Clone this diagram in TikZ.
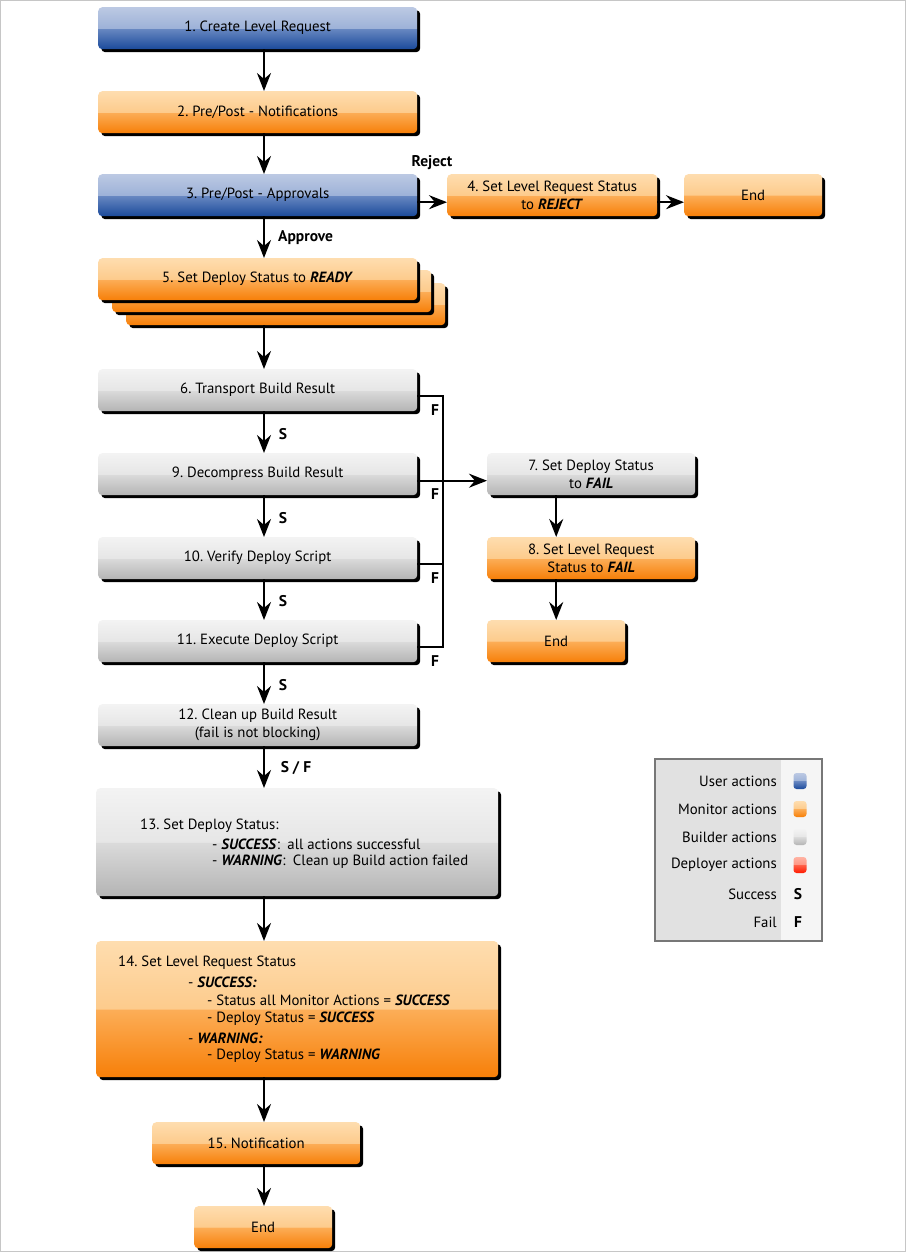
\documentclass[tikz,border=0pt]{standalone}
\usepackage{fontspec}
\setmainfont{PT Sans}
\usetikzlibrary{arrows.meta,shadows,calc}
\frenchspacing
\definecolor{oT}{HTML}{FEDDAF}
\definecolor{oL}{HTML}{FDCB8C}
\definecolor{oM}{HTML}{FCAE58}
\definecolor{oB}{HTML}{F77F08}
\definecolor{bT}{HTML}{BCC9E3}
\definecolor{bL}{HTML}{9DB2D8}
\definecolor{bM}{HTML}{6A89C2}
\definecolor{bB}{HTML}{1B4A9B}
\definecolor{gT}{HTML}{F3F3F3}
\definecolor{gL}{HTML}{E6E6E6}
\definecolor{gM}{HTML}{DBDBDB}
\definecolor{gB}{HTML}{B4B4B4}
\definecolor{rT}{HTML}{FFB3A3}
\definecolor{rL}{HTML}{FF9482}
\definecolor{rM}{HTML}{FF6048}
\definecolor{rB}{HTML}{FF1A00}
\definecolor{legL}{HTML}{E1E1E1}
\definecolor{legR}{HTML}{F5F5F5}
\definecolor{legD}{HTML}{777777}
\pgfdeclareverticalshading{glossO}{100bp}{color(0bp)=(oB); color(25bp)=(oB); color(50bp)=(oM); color(50bp)=(oL); color(75bp)=(oT); color(100bp)=(oT)}
\pgfdeclareverticalshading{glossB}{100bp}{color(0bp)=(bB); color(25bp)=(bB); color(50bp)=(bM); color(50bp)=(bL); color(75bp)=(bT); color(100bp)=(bT)}
\pgfdeclareverticalshading{glossG}{100bp}{color(0bp)=(gB); color(25bp)=(gB); color(50bp)=(gM); color(50bp)=(gL); color(75bp)=(gT); color(100bp)=(gT)}
\pgfdeclareverticalshading{glossR}{100bp}{color(0bp)=(rB); color(25bp)=(rB); color(50bp)=(rM); color(50bp)=(rL); color(75bp)=(rT); color(100bp)=(rT)}
\tikzset{
  box/.style={rounded corners=4pt, minimum height=42pt, anchor=north west, inner sep=2pt,
    align=center, font=\fontsize{14.8}{18}\selectfont,
    general shadow={fill=black, shadow xshift=3pt, shadow yshift=-3pt}},
  obox/.style={box, shading=glossO},
  bbox/.style={box, shading=glossB},
  gbox/.style={box, shading=glossG},
  arr/.style={line width=2pt, -{Stealth[length=18pt,width=14pt,inset=6pt]}},
  ln/.style={line width=1.7pt},
  lbl/.style={font=\fontsize{15.5}{17}\bfseries\selectfont, inner sep=0pt},
  txt/.style={font=\fontsize{14.8}{18}\selectfont, anchor=west, inner sep=0pt},
  legtxt/.style={font=\fontsize{14.8}{18}\selectfont, anchor=east, inner sep=0pt},
  icon/.style={rounded corners=3pt, minimum width=13pt, minimum height=16pt, inner sep=0pt},
}
\newcommand{\bi}[1]{\textbf{\textit{#1}}}
\begin{document}
\begin{tikzpicture}[x=1pt,y=-1pt]
\useasboundingbox (0,0) rectangle (906,1252);
\draw[gray!45, line width=1pt] (0.5,0.5) rectangle (905.5,1251.5);
% nodes
\node[bbox, minimum width=319pt] (b1) at (98,7) {1. Create Level Request};
\node[obox, minimum width=319pt] (b2) at (98,91) {2. Pre/Post - Notifications};
\node[bbox, minimum width=319pt] (b3) at (98,174) {3. Pre/Post - Approvals};
\node[obox, minimum width=210pt] (b4) at (447,174) {4. Set Level Request Status\\to \bi{REJECT}};
\node[obox, minimum width=138pt] (e1) at (684,174) {End};
\node[obox, minimum width=319pt] (b5c) at (126,283) {};
\node[obox, minimum width=319pt] (b5b) at (112,270) {};
\node[obox, minimum width=319pt] (b5) at (98,258) {5. Set Deploy Status to \bi{READY}};
\node[gbox, minimum width=319pt] (b6) at (98,369) {6. Transport Build Result};
\node[gbox, minimum width=319pt] (b9) at (98,453) {9. Decompress Build Result};
\node[gbox, minimum width=319pt] (b10) at (98,537) {10. Verify Deploy Script};
\node[gbox, minimum width=319pt] (b11) at (98,620) {11. Execute Deploy Script};
\node[gbox, minimum width=319pt] (b12) at (98,704) {12. Clean up Build Result\\(fail is not blocking)};
\node[gbox, minimum width=208pt] (b7) at (487,453) {7. Set Deploy Status\\to \bi{FAIL}};
\node[obox, minimum width=208pt] (b8) at (487,537) {8. Set Level Request\\Status to \bi{FAIL}};
\node[obox, minimum width=138pt] (e2) at (487,620) {End};
\node[gbox, minimum width=402pt, minimum height=108pt] (b13) at (96,788) {};
\node[txt] (t13a) at (140,826) {13. Set Deploy Status:};
\node[txt] (t13b) at (212,844) {- \bi{SUCCESS}:\enspace all actions successful};
\node[txt] (t13c) at (212,862) {- \bi{WARNING}:\enspace Clean up Build action failed};
\node[obox, minimum width=402pt, minimum height=136pt] (b14) at (96,941) {};
\node[txt] (t14a) at (118,963) {14. Set Level Request Status};
\node[txt] (t14b) at (188,982) {- \bi{SUCCESS:}};
\node[txt] (t14c) at (207,1000) {- Status all Monitor Actions = \bi{SUCCESS}};
\node[txt] (t14d) at (207,1019) {- Deploy Status = \bi{SUCCESS}};
\node[txt] (t14e) at (188,1038) {- \bi{WARNING:}};
\node[txt] (t14f) at (207,1056) {- Deploy Status = \bi{WARNING}};
\node[obox, minimum width=208pt] (b15) at (152,1122) {15. Notification};
\node[obox, minimum width=138pt] (e3) at (194,1206) {End};
% connectors
\coordinate (cx) at (264,0);
\draw[arr] (cx |- b1.south) -- (cx |- b2.north);
\draw[arr] (cx |- b2.south) -- (cx |- b3.north);
\draw[arr] (cx |- b3.south) -- (cx |- b5.north);
\node[lbl, anchor=west] (lapp) at (278,238) {Approve};
\coordinate (r3) at ($(b3.east)+(0,7)$);
\draw[arr] (r3) -- (r3 -| b4.west);
\node[lbl] (lrej) at (432,163) {Reject};
\coordinate (r4) at ($(b4.east)+(0,7)$);
\draw[arr] (r4) -- (r4 -| e1.west);
\draw[arr] (cx |- b5c.south) -- (cx |- b6.north);
\draw[arr] (cx |- b6.south) -- (cx |- b9.north);
\draw[arr] (cx |- b9.south) -- (cx |- b10.north);
\draw[arr] (cx |- b10.south) -- (cx |- b11.north);
\draw[arr] (cx |- b11.south) -- (cx |- b12.north);
\draw[arr] (cx |- b12.south) -- (cx |- b13.north);
\draw[arr] (cx |- b13.south) -- (cx |- b14.north);
\draw[arr] (cx |- b14.south) -- (cx |- b15.north);
\draw[arr] (cx |- b15.south) -- (cx |- e3.north);
\node[lbl] (s1) at (283,434) {S};
\node[lbl] (s2) at (283,518) {S};
\node[lbl] (s3) at (283,601) {S};
\node[lbl] (s4) at (283,685) {S};
\node[lbl] (s5) at (296,768) {S / F};
% fail bus
\coordinate (bus) at (443,0);
\coordinate (f6) at ($(b6.east)+(0,6)$);
\coordinate (f9) at ($(b9.east)+(0,6.5)$);
\coordinate (f10) at ($(b10.east)+(0,6)$);
\coordinate (f11) at ($(b11.east)+(0,6)$);
\draw[ln] (f6) -- (f6 -| bus) -- (f11 -| bus) -- (f11);
\draw[ln] (f10) -- (f10 -| bus);
\draw[arr] (f9) -- (f9 -| b7.west);
\node[lbl] (ff1) at (435,410) {F};
\node[lbl] (ff2) at (435,494) {F};
\node[lbl] (ff3) at (435,578) {F};
\node[lbl] (ff4) at (435,661) {F};
\draw[arr] (e2.north |- b7.south) -- (e2.north |- b8.north);
\draw[arr] (e2.north |- b8.south) -- (e2.north);
% legend
\fill[legL] (654,758) rectangle (781,940);
\fill[legR] (781,758) rectangle (821,940);
\node[draw=legD, line width=1.6pt, minimum width=167pt, minimum height=182pt, anchor=north west, inner sep=0pt] (leg) at (654,758) {};
\node[legtxt] (l1) at (777,781) {User actions};
\node[legtxt] (l2) at (777,809) {Monitor actions};
\node[legtxt] (l3) at (777,837) {Builder actions};
\node[legtxt] (l4) at (777,865) {Deployer actions};
\node[legtxt] (l5) at (777,894) {Success};
\node[legtxt] (l6) at (777,922) {Fail};
\node[icon, shading=glossB] (i1) at (800,781) {};
\node[icon, shading=glossO] (i2) at (800,809) {};
\node[icon, shading=glossG] (i3) at (800,837) {};
\node[icon, shading=glossR] (i4) at (800,865) {};
\node[lbl] (i5) at (798,894) {S};
\node[lbl] (i6) at (798,922) {F};
\end{tikzpicture}
\end{document}
